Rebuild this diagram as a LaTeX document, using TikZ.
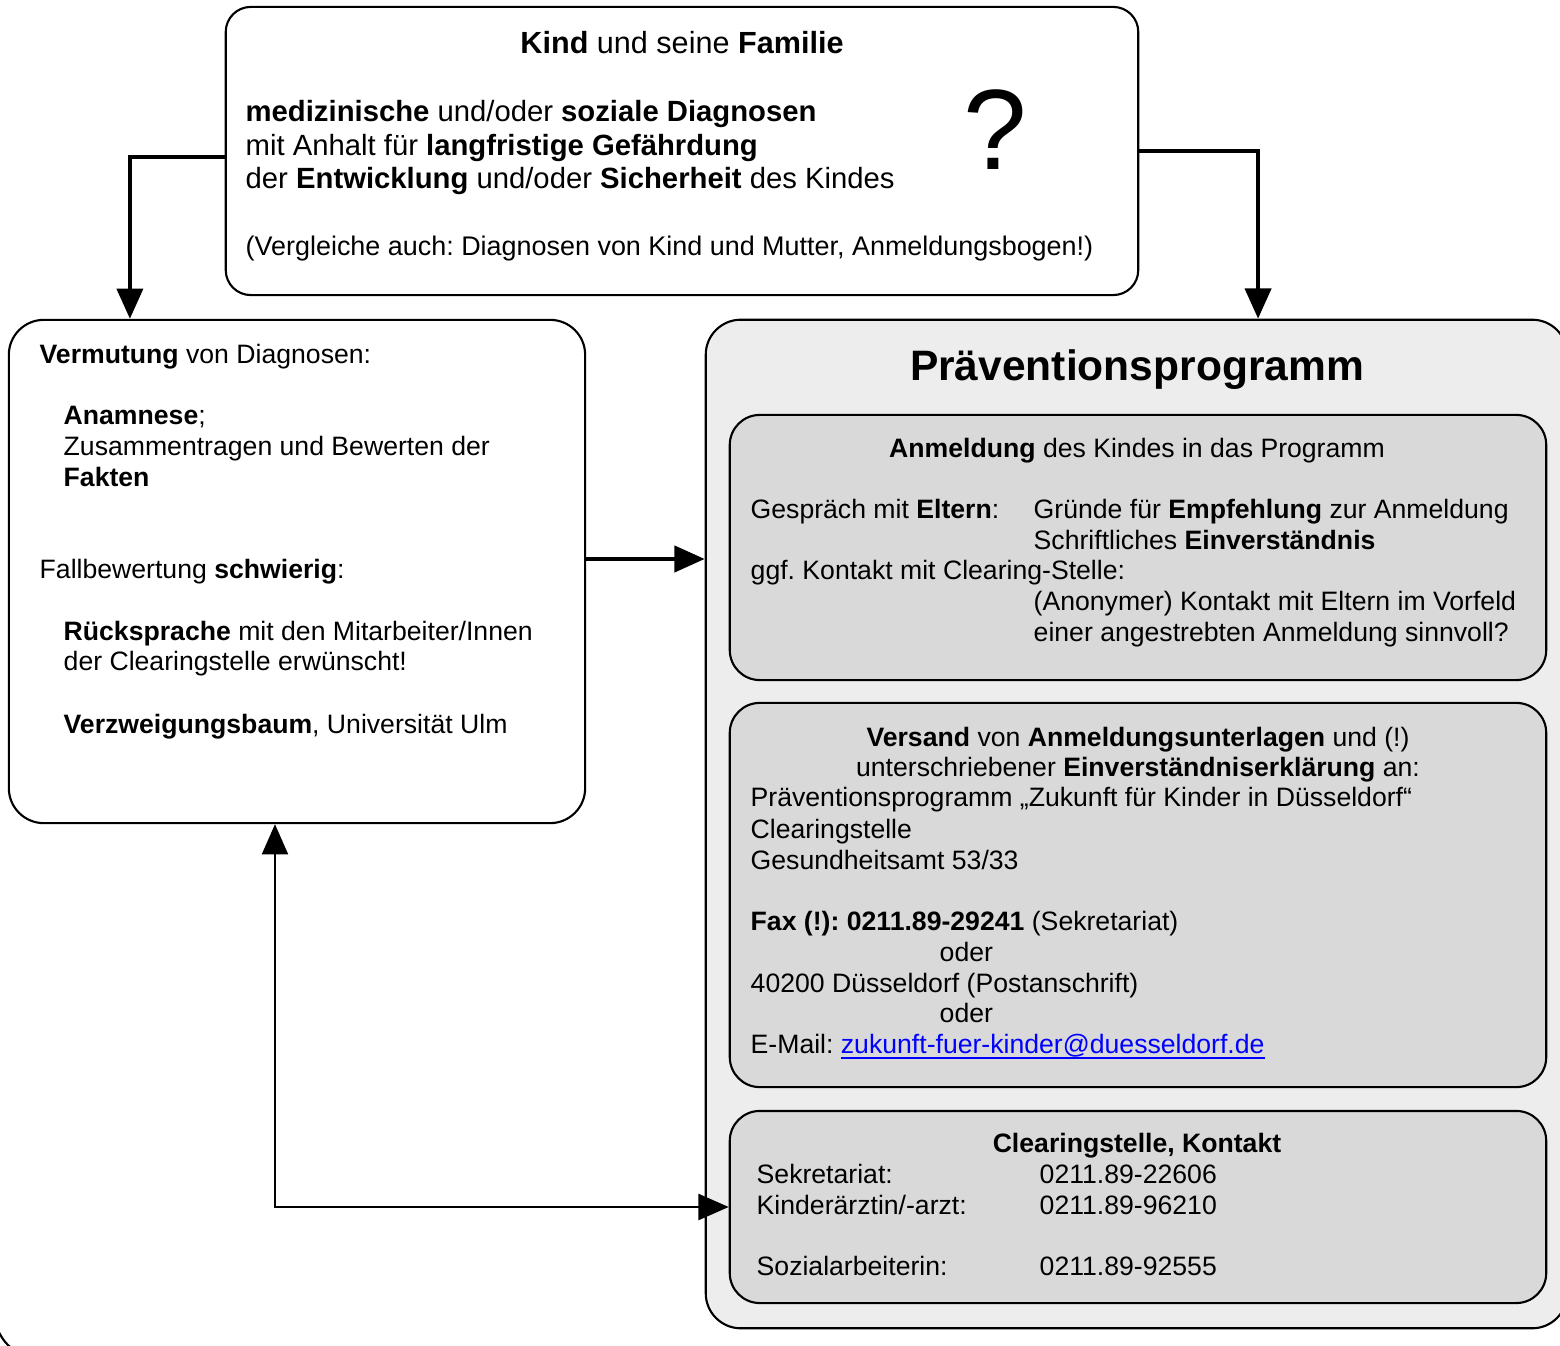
\documentclass[tikz,border=0pt]{standalone}
\usepackage{fontspec}
\setmainfont{Liberation Sans}
\usetikzlibrary{arrows.meta,positioning}
\definecolor{outergrey}{RGB}{237,237,237}
\definecolor{innergrey}{RGB}{217,217,217}
\definecolor{linkblue}{RGB}{0,0,255}
\frenchspacing
\newcommand{\linktext}[1]{{\color{linkblue}\underline{\smash{#1}}}}
\tikzstyle{bx} = [rectangle, draw, line width=0.6pt, inner sep=0pt, fill=white]
\tikzstyle{ln} = [anchor=base west, inner sep=0pt, font=\fontsize{7.57}{8.75}\selectfont]
\tikzstyle{lc} = [ln, anchor=base]
\tikzstyle{tl} = [ln, font=\fontsize{8.32}{9.5}\selectfont]
\tikzstyle{fat} = [->, line width=1.15pt]

\begin{document}
\begin{tikzpicture}[x=0.01cm,y=-0.01cm,>={Triangle[width=7.4pt,length=8.6pt]}]
  \useasboundingbox (0,0) rectangle (1560,1346);

  % boxes
  \node[bx, minimum width=9.12cm, minimum height=2.88cm, rounded corners=0.25cm] (top) at (682,151) {};
  \node[bx, minimum width=5.76cm, minimum height=5.03cm, rounded corners=0.35cm] (guess) at (297,571.5) {};
  \node[bx, fill=outergrey, minimum width=8.61cm, minimum height=10.08cm, rounded corners=0.35cm] (prog) at (1136.5,824) {};
  \node[bx, fill=innergrey, minimum width=8.16cm, minimum height=2.65cm, rounded corners=0.3cm] (reg) at (1138,547.5) {};
  \node[bx, fill=innergrey, minimum width=8.16cm, minimum height=3.84cm, rounded corners=0.3cm] (mail) at (1138,895) {};
  \node[bx, fill=innergrey, minimum width=8.16cm, minimum height=1.92cm, rounded corners=0.3cm] (contact) at (1138,1207) {};
  \draw[line width=0.6pt] (-4,1326) to[out=-65,in=145] (14,1350);

  % Kind und seine Familie
  \node[tl, anchor=base, font=\fontsize{8.7}{9.5}\selectfont] (k0) at (682,54) {\bfseries Kind \mdseries und seine \bfseries Familie};
  \node[tl] (k1) at (245,122) {\bfseries medizinische \mdseries und/oder \bfseries soziale Diagnosen};
  \node[tl] (k2) at (245,156) {mit Anhalt für \bfseries langfristige Gefährdung};
  \node[tl] (k3) at (245,189) {der \textbf{Entwicklung} und/oder \textbf{Sicherheit} des Kindes};
  \node[ln, font=\fontsize{7.66}{8.75}\selectfont] (k4) at (245,256) {(Vergleiche auch: Diagnosen von Kind und Mutter, Anmeldungsbogen!)};
  \node[ln, anchor=base, font=\fontsize{32.5}{36}\selectfont] (q) at (995,170) {?};

  % Vermutung
  \node[ln] (v1) at (39,364) {\textbf{Vermutung} von Diagnosen:};
  \node[ln] (v2) at (63,425) {\textbf{Anamnese};};
  \node[ln] (v3) at (63,456) {Zusammentragen und Bewerten der};
  \node[ln] (v4) at (63,487) {\textbf{Fakten}};
  \node[ln] (v5) at (39,579) {Fallbewertung \textbf{schwierig}:};
  \node[ln] (v6) at (63,640) {\textbf{Rücksprache} mit den Mitarbeiter/Innen};
  \node[ln] (v7) at (63,671) {der Clearingstelle erwünscht!};
  \node[ln] (v8) at (63,733) {\textbf{Verzweigungsbaum}, Universität Ulm};

  % Praeventionsprogramm
  \node[lc, font=\fontsize{12.1}{14}\selectfont\bfseries] (p0) at (1137,381) {Präventionsprogramm};

  \node[lc] (a0) at (1137,458) {\textbf{Anmeldung} des Kindes in das Programm};
  \node[ln] (a1) at (750,519) {Gespräch mit \textbf{Eltern}:};
  \node[ln] (a2) at (1033,519) {Gründe für \textbf{Empfehlung} zur Anmeldung};
  \node[ln] (a3) at (1033,550) {Schriftliches \textbf{Einverständnis}};
  \node[ln] (a4) at (750,580) {ggf. Kontakt mit Clearing-Stelle:};
  \node[ln] (a5) at (1033,611) {(Anonymer) Kontakt mit Eltern im Vorfeld};
  \node[ln] (a6) at (1033,642) {einer angestrebten Anmeldung sinnvoll?};

  \node[lc] (m0) at (1138,746) {\textbf{Versand} von \textbf{Anmeldungsunterlagen} und (!)};
  \node[lc] (m1) at (1138,777) {unterschriebener \textbf{Einverständniserklärung} an:};
  \node[ln] (m2) at (750,807) {Präventionsprogramm „Zukunft für Kinder in Düsseldorf“};
  \node[ln] (m3) at (750,838) {Clearingstelle};
  \node[ln] (m4) at (750,869) {Gesundheitsamt 53/33};
  \node[ln] (m5) at (750,930) {\textbf{Fax (!): 0211.89-29241} (Sekretariat)};
  \node[ln] (m6) at (939,961) {oder};
  \node[ln] (m7) at (750,992) {40200 Düsseldorf (Postanschrift)};
  \node[ln] (m8) at (939,1022) {oder};
  \node[ln] (m9) at (750,1053) {E-Mail: \linktext{zukunft-fuer-kinder@duesseldorf.de}};

  \node[lc] (c0) at (1137,1152) {\textbf{Clearingstelle, Kontakt}};
  \node[ln] (c1) at (756,1183) {Sekretariat:};
  \node[ln] (c2) at (1039,1183) {0211.89-22606};
  \node[ln] (c3) at (756,1214) {Kinderärztin/-arzt:};
  \node[ln] (c4) at (1039,1214) {0211.89-96210};
  \node[ln] (c5) at (756,1275) {Sozialarbeiterin:};
  \node[ln] (c6) at (1039,1275) {0211.89-92555};

  % connectors
  \draw[fat] ([yshift=-0.06cm]top.west) -| ([xshift=-1.67cm]guess.north);
  \draw[fat] (top.east) -| ([xshift=1.215cm]prog.north);
  \coordinate (gm) at ([yshift=0.125cm]guess.east);
  \draw[fat] (gm) -- (gm -| prog.west);
  \draw[<->, line width=0.6pt] ([xshift=-0.22cm]guess.south) |- (contact.west);
\end{tikzpicture}
\end{document}
